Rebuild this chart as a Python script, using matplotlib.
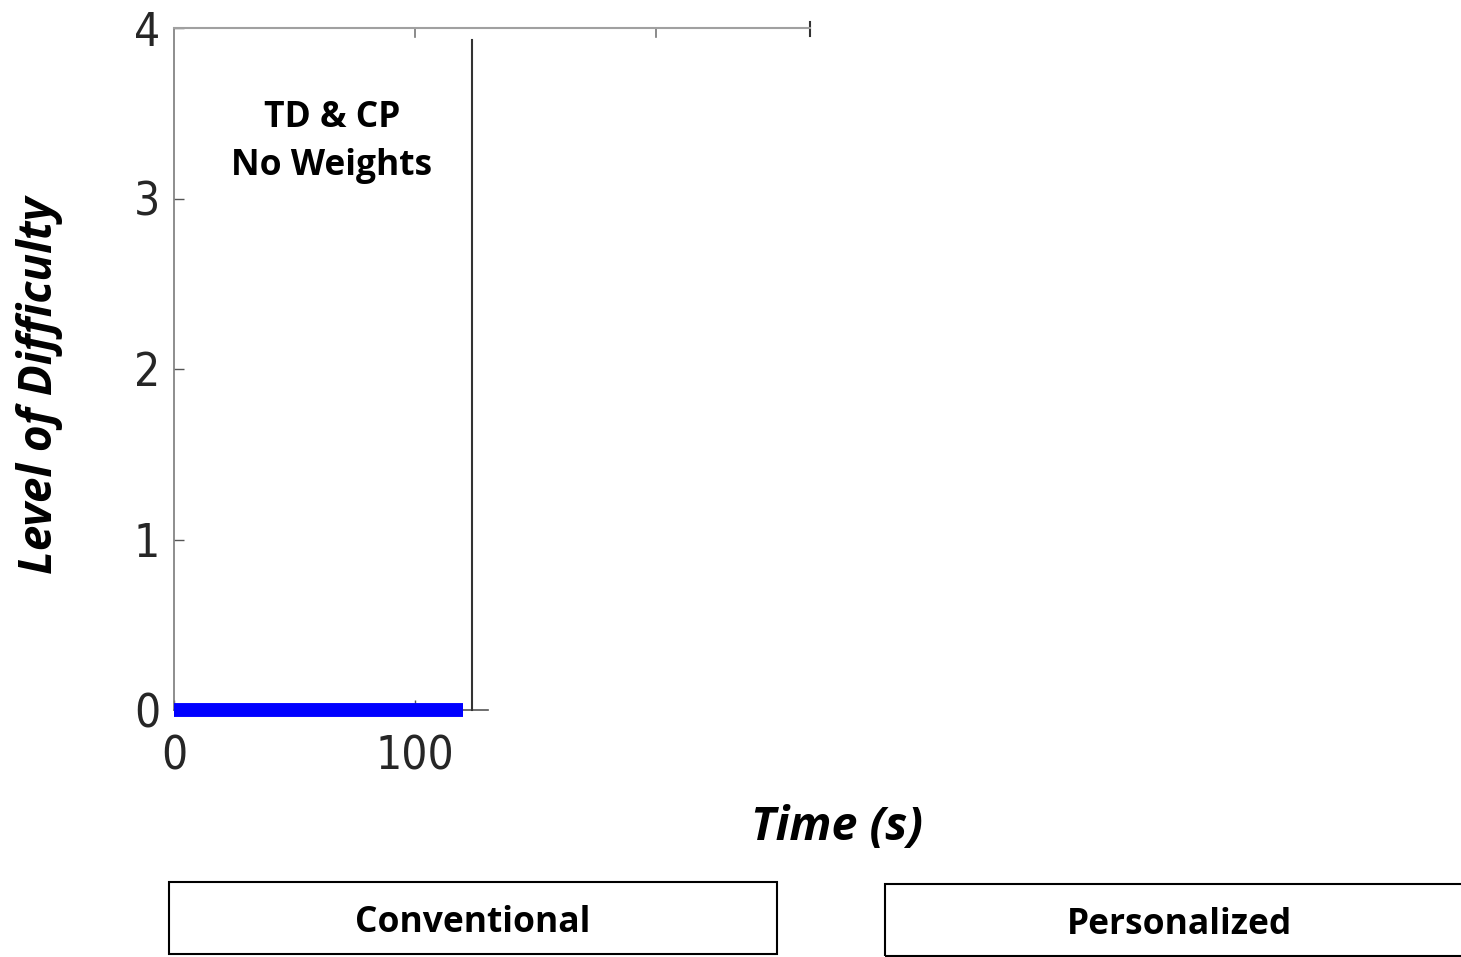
import matplotlib.pyplot as plt
from matplotlib.patches import Rectangle

# data
time_s = [0, 120]
difficulty = [0, 0]
yticks = [0, 1, 2, 3, 4]
xticks_bottom = [0, 100]
xticks_top = [100, 200]
panel_labels = ['Conventional', 'Personalized']

W, H = 1461, 957
fig = plt.figure(figsize=(W / 100, H / 100), dpi=100)

# axes in pixel coordinates
x0, x1, y0, y1 = 174, 810, 28, 710
ax = fig.add_axes([x0 / W, 1 - y1 / H, (x1 - x0) / W, (y1 - y0) / H])
xmax = (x1 - x0) / 2.41
ax.set_xlim(0, xmax)
ax.set_ylim(0, 4)

for s in ['right', 'bottom']:
    ax.spines[s].set_visible(False)
ax.spines['left'].set_color('#7a7a7a')
ax.spines['top'].set_color('#a0a0a0')
ax.spines['left'].set_linewidth(1.2)
ax.spines['top'].set_linewidth(1.5)

tick_font = dict(family='DejaVu Sans', stretch='condensed', size=33, color='#262626')
ax.set_yticks(yticks)
ax.set_yticklabels([str(v) for v in yticks], **tick_font)
ax.set_xticks(xticks_bottom)
ax.set_xticklabels([str(v) for v in xticks_bottom], **tick_font)
ax.tick_params(axis='both', direction='in', length=7, color='#555555', width=1)
ax.tick_params(axis='x', pad=18)
ax.tick_params(axis='y', pad=10)

# top ticks
for t in xticks_top:
    ax.plot([t, t], [4, 4 - 0.05], color='#777777', lw=1.2, clip_on=False)
ax.plot([xmax, xmax], [4 - 0.045, 4 + 0.035], color='#333333', lw=1.5, clip_on=False)

# bottom axis line (partial) and right border of panel
bx_end = (488 - x0) / 2.41
ax.plot([0, bx_end], [0, 0], color='#555555', lw=1.2, clip_on=False)
vx = (472 - x0) / 2.41
ax.plot([vx, vx], [0, (y1 - 40) / (y1 - y0) * 4], color='#333333', lw=1.5, clip_on=False)

ax.plot(time_s, difficulty, color='#0000ff', lw=10, solid_capstyle='butt', clip_on=False, zorder=3)

ax.text((332 - x0) / 2.41, 3.33, 'TD & CP\nNo Weights', ha='center', va='center',
        fontsize=25.5, fontweight='bold', family='Open Sans', linespacing=1.45)

fig.text(40 / W, 1 - 385 / H, 'Level of Difficulty', rotation=90, ha='center', va='center',
         fontsize=33, fontweight='bold', fontstyle='italic', family='Open Sans')
fig.text(837 / W, 1 - 828 / H, 'Time (s)', ha='center', va='center',
         fontsize=33.5, fontweight='bold', fontstyle='italic', family='Open Sans')

# panel label boxes
boxes = [(169, 882, 777, 954), (885, 884, 1470, 956)]
centers = [473, 1179]
for (bx0, by0, bx1, by1), cx, lab in zip(boxes, centers, panel_labels):
    fig.patches.append(Rectangle((bx0 / W, 1 - by1 / H), (bx1 - bx0) / W, (by1 - by0) / H,
                                 transform=fig.transFigure, fill=False, ec='black', lw=1.5))
    fig.text(cx / W, 1 - ((by0 + by1) / 2 + 5) / H, lab, ha='center', va='center',
             fontsize=25.5, fontweight='bold', family='Open Sans')

fig.savefig('out.png', dpi=100)
